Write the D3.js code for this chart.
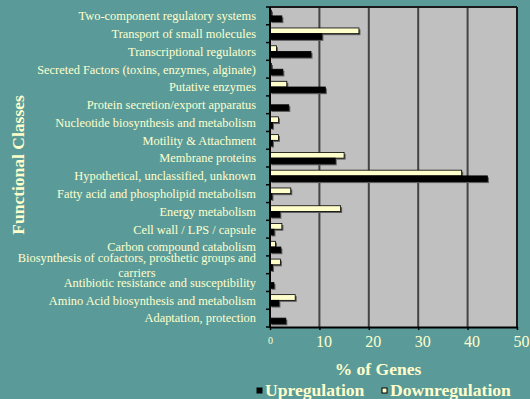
<!DOCTYPE html>
<html>
<head>
<meta charset="utf-8">
<script src="https://cdn.jsdelivr.net/npm/d3@7"></script>
<style>
  html, body { margin: 0; padding: 0; background: #5A9B9A; }
  svg { display: block; font-family: "Liberation Serif", "Times New Roman", serif; }
</style>
</head>
<body>
<svg id="chart" width="530" height="399"></svg>
<script>
// Functional classes, listed top to bottom
const categories = [
  "Two-component regulatory systems ",
  "Transport of small molecules",
  "Transcriptional regulators",
  "Secreted Factors (toxins, enzymes, alginate)  ",
  "Putative enzymes",
  "Protein secretion/export apparatus ",
  "Nucleotide biosynthesis and metabolism ",
  "Motility & Attachment",
  "Membrane proteins",
  "Hypothetical, unclassified, unknown ",
  "Fatty acid and phospholipid metabolism ",
  "Energy metabolism",
  "Cell wall / LPS / capsule",
  "Carbon compound catabolism ",
  "Biosynthesis of cofactors, prosthetic groups and |carriers",
  "Antibiotic resistance and susceptibility ",
  "Amino Acid biosynthesis and metabolism ",
  "Adaptation, protection "
];

// % of genes per class
const upregulation = [2.4, 10.5, 8.3, 2.6, 11.2, 3.8, 0.5, 0.5, 13.2, 44.0, 0.4, 2.0, 0.8, 2.2, 0.5, 0.8, 1.8, 3.2];
const downregulation = [0.3, 18.0, 1.3, 0.3, 3.4, 0, 1.7, 1.7, 15.0, 38.8, 4.2, 14.3, 2.4, 1.1, 2.1, 0, 5.1, 0];

const xTicks = [0, 10, 20, 30, 40, 50];
const seriesNames = ["Downregulation", "Upregulation"];

const textColor = "#FFFFCC";
const svg = d3.select("#chart");

const plot = { left: 270, right: 517, top: 7, bottom: 327 };

const x = d3.scaleLinear().domain([0, 50]).range([plot.left, plot.right]);
const y = d3.scaleBand().domain(d3.range(categories.length)).range([plot.top, plot.bottom]).padding(0);
const ySeries = d3.scaleBand().domain(seriesNames).range([0, y.bandwidth()])
  .paddingInner(0).paddingOuter(0.56);

// plot area
svg.append("rect")
  .attr("x", plot.left).attr("y", plot.top)
  .attr("width", plot.right - plot.left).attr("height", plot.bottom - plot.top)
  .attr("fill", "#C0C0C0");

// vertical gridlines
svg.append("g").selectAll("line")
  .data(xTicks.slice(1))
  .join("line")
  .attr("x1", d => x(d)).attr("x2", d => x(d))
  .attr("y1", plot.top).attr("y2", plot.bottom)
  .attr("stroke", d => d === 50 ? "#1a1a1a" : "#444")
  .attr("stroke-width", 2);

// top border
svg.append("line")
  .attr("x1", plot.left).attr("x2", plot.right)
  .attr("y1", plot.top).attr("y2", plot.top)
  .attr("stroke", "#1a1a1a").attr("stroke-width", 2);

// bars
const rows = categories.map((c, i) => ({ i, Downregulation: downregulation[i], Upregulation: upregulation[i] }));
const barData = rows.flatMap(r => seriesNames.map(s => ({ i: r.i, s, v: r[s] }))).filter(d => d.v > 0);

const bars = svg.append("g");
// drop shadow
bars.selectAll("rect.shadow")
  .data(barData)
  .join("rect")
  .attr("class", "shadow")
  .attr("x", x(0) + 1.5)
  .attr("y", d => y(d.i) + ySeries(d.s) + 1.5)
  .attr("width", d => x(d.v) - x(0))
  .attr("height", ySeries.bandwidth())
  .attr("fill", "#5a5a5a");
bars.selectAll("rect.bar")
  .data(barData)
  .join("rect")
  .attr("class", "bar")
  .attr("x", x(0))
  .attr("y", d => y(d.i) + ySeries(d.s))
  .attr("width", d => x(d.v) - x(0))
  .attr("height", ySeries.bandwidth())
  .attr("fill", d => d.s === "Upregulation" ? "#000000" : "#FFFFCC")
  .attr("stroke", "#000")
  .attr("stroke-width", 0.8);

// y axis line and ticks at band boundaries
const yAxis = svg.append("g");
yAxis.append("line")
  .attr("x1", plot.left).attr("x2", plot.left)
  .attr("y1", plot.top).attr("y2", plot.bottom + 1)
  .attr("stroke", "#000").attr("stroke-width", 2);
yAxis.selectAll("line.tick")
  .data(d3.range(categories.length + 1))
  .join("line")
  .attr("class", "tick")
  .attr("x1", plot.left - 4).attr("x2", plot.left)
  .attr("y1", i => plot.top + i * y.step()).attr("y2", i => plot.top + i * y.step())
  .attr("stroke", "#000").attr("stroke-width", 1.5);

// category labels
const labelRight = 256;
const labels = svg.append("g")
  .attr("font-size", 12.4)
  .attr("fill", textColor)
  .style("white-space", "pre");
categories.forEach((c, i) => {
  const parts = c.split("|");
  const cy = y(i) + y.bandwidth() / 2;
  if (parts.length === 1) {
    labels.append("text")
      .attr("x", labelRight).attr("y", cy)
      .attr("dy", "0.35em")
      .attr("text-anchor", "end")
      .text(parts[0]);
  } else {
    const lh = 15;
    const t1 = labels.append("text")
      .attr("x", labelRight).attr("y", cy - lh / 2)
      .attr("dy", "0.35em")
      .attr("text-anchor", "end")
      .text(parts[0]);
    const w = t1.node().getComputedTextLength();
    labels.append("text")
      .attr("x", labelRight - w / 2).attr("y", cy + lh / 2)
      .attr("dy", "0.35em")
      .attr("text-anchor", "middle")
      .text(parts[1]);
  }
});

// x axis
const xAxis = svg.append("g").attr("transform", `translate(0,${plot.bottom})`)
  .call(d3.axisBottom(x).tickValues(xTicks).tickSize(3).tickSizeOuter(0).tickPadding(0));
xAxis.select(".domain").attr("stroke", "#000").attr("stroke-width", 2);
xAxis.selectAll(".tick line").attr("stroke", "#000").attr("stroke-width", 1.5);
xAxis.selectAll(".tick text")
  .attr("fill", textColor)
  .attr("font-family", "Liberation Serif, Times New Roman, serif")
  .attr("font-size", d => d === 0 ? 10 : 16)
  .attr("y", d => d === 0 ? 10 : 9)
  .attr("dx", d => d === 0 ? 0 : 4);

// axis titles
svg.append("text")
  .attr("x", 378).attr("y", 375)
  .attr("text-anchor", "middle")
  .attr("font-size", 17.5).attr("font-weight", "bold")
  .attr("fill", textColor)
  .text("% of Genes");

svg.append("text")
  .attr("transform", "translate(24,165) rotate(-90)")
  .attr("text-anchor", "middle")
  .attr("font-size", 17.5).attr("font-weight", "bold")
  .attr("fill", textColor)
  .text("Functional Classes");

// legend
const legendItems = [
  { name: "Upregulation", fill: "#000000", x: 257 },
  { name: "Downregulation", fill: "#FFFFCC", x: 382 }
];
const legend = svg.append("g");
legendItems.forEach(it => {
  legend.append("rect")
    .attr("x", it.x).attr("y", 388)
    .attr("width", 5).attr("height", 5)
    .attr("fill", it.fill).attr("stroke", "#000").attr("stroke-width", 1);
  legend.append("text")
    .attr("x", it.x + 8).attr("y", 396)
    .attr("font-size", 17.6).attr("font-weight", "bold")
    .attr("fill", textColor)
    .text(it.name);
});
</script>
</body>
</html>
